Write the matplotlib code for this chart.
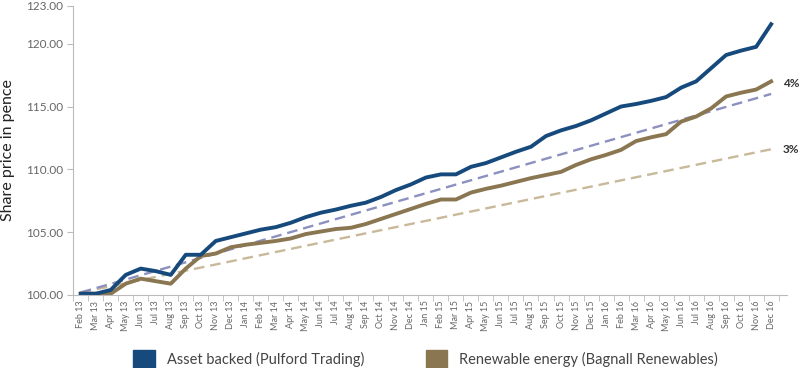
import matplotlib
matplotlib.use("Agg")
import matplotlib.pyplot as plt
from matplotlib.patches import Patch

plt.rcParams['font.family'] = ['Lato', 'DejaVu Sans']

months = ['Feb 13', 'Mar 13', 'Apr 13', 'May 13', 'Jun 13', 'Jul 13', 'Aug 13', 'Sep 13', 'Oct 13', 'Nov 13', 'Dec 13',
          'Jan 14', 'Feb 14', 'Mar 14', 'Apr 14', 'May 14', 'Jun 14', 'Jul 14', 'Aug 14', 'Sep 14', 'Oct 14', 'Nov 14', 'Dec 14',
          'Jan 15', 'Feb 15', 'Mar 15', 'Apr 15', 'May 15', 'Jun 15', 'Jul 15', 'Aug 15', 'Sep 15', 'Oct 15', 'Nov 15', 'Dec 15',
          'Jan 16', 'Feb 16', 'Mar 16', 'Apr 16', 'May 16', 'Jun 16', 'Jul 16', 'Aug 16', 'Sep 16', 'Oct 16', 'Nov 16', 'Dec 16']

asset_backed = [100.1, 100.1, 100.4, 101.6, 102.1, 101.9, 101.6, 103.2, 103.2, 104.3, 104.6,
                104.9, 105.2, 105.4, 105.75, 106.2, 106.55, 106.8, 107.1, 107.35, 107.8, 108.35, 108.8,
                109.35, 109.6, 109.6, 110.2, 110.5, 110.95, 111.4, 111.8, 112.65, 113.1, 113.45, 113.9,
                114.45, 115.0, 115.2, 115.45, 115.75, 116.5, 117.0, 118.05, 119.1, 119.45, 119.75, 121.55]

renewable = [100.1, 100.1, 100.1, 100.9, 101.3, 101.1, 100.9, 102.1, 103.1, 103.3, 103.8,
             104.0, 104.15, 104.3, 104.5, 104.85, 105.05, 105.25, 105.35, 105.65, 106.05, 106.45, 106.85,
             107.25, 107.6, 107.6, 108.15, 108.45, 108.7, 109.0, 109.3, 109.55, 109.8, 110.35, 110.8,
             111.15, 111.55, 112.25, 112.55, 112.8, 113.8, 114.2, 114.85, 115.8, 116.1, 116.35, 117.0]

# straight target lines, start and end values
target_4 = [100.2, 116.0]
target_3 = [100.2, 111.6]

yticks = [100, 105, 110, 115, 120, 123]

blue = '#174a7c'
gold = '#8a7650'
c4 = '#8c90bf'
c3 = '#c9b99b'

fig = plt.figure(figsize=(8, 3.68), dpi=100)
ax = fig.add_axes([0.0915, 0.1984, 0.8925, 0.7853])

x = list(range(len(months)))
ends = [0, len(months) - 1]
ax.plot(ends, target_3, color=c3, lw=1.7, dashes=(4.5, 2.5))
ax.plot(ends, target_4, color=c4, lw=1.7, dashes=(4.5, 2.5))
ax.plot(x, renewable, color=gold, lw=2.8, solid_joinstyle='round')
ax.plot(x, asset_backed, color=blue, lw=2.8, solid_joinstyle='round')

ax.text(46.8, 116.8, '4%', fontsize=8.5, fontweight='bold', color='#333333', ha='left', va='center', clip_on=False)
ax.text(46.8, 111.55, '3%', fontsize=8.5, fontweight='bold', color='#333333', ha='left', va='center', clip_on=False)

ax.set_xlim(-0.5, len(months) + 0.07)
ax.set_ylim(100, 123)
ax.set_yticks(yticks)
ax.set_yticklabels(['%.2f' % v for v in yticks], fontsize=8.5, color='#666666')
ax.set_xticks(x)
ax.set_xticklabels(months, rotation=90, fontsize=6.5, color='#666666')
ax.set_xticks([i - 0.5 for i in range(len(months) + 1)], minor=True)
ax.tick_params(axis='x', which='major', length=0, pad=4)
ax.tick_params(axis='x', which='minor', length=4, color='#bbbbbb')
ax.tick_params(axis='y', length=4, color='#bbbbbb')

for s in ['top', 'right']:
    ax.spines[s].set_visible(False)
for s in ['left', 'bottom']:
    ax.spines[s].set_color('#bbbbbb')

ax.set_ylabel('Share price in pence', fontsize=11.5, color='#222222', labelpad=8)

handles = [Patch(color=blue, label='Asset backed (Pulford Trading)'),
           Patch(color=gold, label='Renewable energy (Bagnall Renewables)')]
fig.legend(handles=handles, loc='lower center', bbox_to_anchor=(0.532, -0.035), ncol=2, frameon=False,
           fontsize=10.5, handlelength=1.5, handleheight=1.5, columnspacing=4.2, handletextpad=0.8,
           labelcolor='#444444')

fig.savefig('out.png', dpi=100)
